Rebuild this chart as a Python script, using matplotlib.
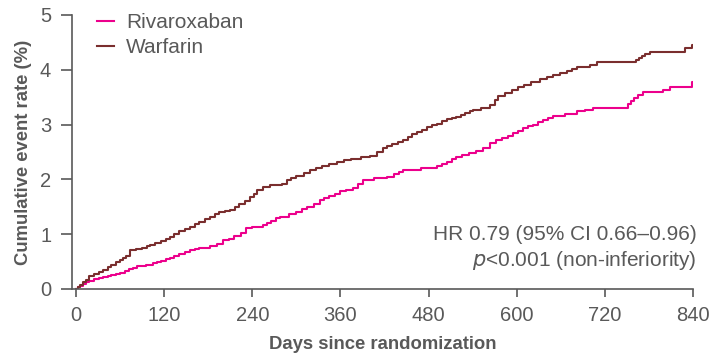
import matplotlib
matplotlib.use("Agg")
import matplotlib.pyplot as plt

plt.rcParams['font.family'] = ['Liberation Sans', 'DejaVu Sans']

# Data
warf_days = [0, 3, 6, 10, 14, 17, 25, 31, 37, 43, 48, 54, 60, 64, 68, 74, 82, 90, 96, 101,
             108, 115, 122, 128, 134, 140, 148, 155, 162, 168, 175, 182, 189, 195, 203,
             210, 216, 222, 230, 237, 242, 246, 255, 264, 280, 287, 293, 300, 310, 319,
             327, 335, 345, 355, 365, 375, 388, 400, 410, 418, 424, 430, 438, 445, 452,
             458, 464, 471, 478, 484, 491, 498, 505, 512, 518, 524, 530, 536, 541, 552,
             564, 570, 574, 584, 593, 602, 610, 620, 632, 641, 650, 659, 668, 675, 682,
             700, 709, 763, 766, 770, 775, 781, 829, 838, 840]
warf_vals = [0, 0.03, 0.07, 0.12, 0.17, 0.24, 0.28, 0.31, 0.35, 0.40, 0.44, 0.49, 0.53,
             0.57, 0.60, 0.71, 0.73, 0.75, 0.78, 0.80, 0.84, 0.88, 0.91, 0.95, 1.00, 1.05,
             1.10, 1.14, 1.18, 1.22, 1.27, 1.32, 1.36, 1.40, 1.42, 1.44, 1.50, 1.55, 1.61,
             1.68, 1.74, 1.81, 1.86, 1.90, 1.92, 1.99, 2.03, 2.07, 2.12, 2.17, 2.21, 2.24,
             2.28, 2.32, 2.35, 2.38, 2.41, 2.43, 2.50, 2.57, 2.61, 2.65, 2.69, 2.72, 2.77,
             2.82, 2.87, 2.91, 2.95, 2.99, 3.02, 3.06, 3.10, 3.12, 3.14, 3.18, 3.22, 3.25,
             3.27, 3.31, 3.36, 3.45, 3.53, 3.58, 3.64, 3.69, 3.73, 3.78, 3.83, 3.87, 3.90,
             3.94, 3.98, 4.02, 4.06, 4.08, 4.15, 4.18, 4.22, 4.25, 4.29, 4.33, 4.40, 4.46,
             4.46]

riva_days = [0, 3, 6, 10, 14, 17, 25, 31, 37, 43, 48, 54, 60, 66, 72, 78, 83, 95, 105,
             110, 115, 122, 128, 134, 140, 148, 155, 162, 168, 182, 192, 200, 208, 215,
             224, 232, 240, 245, 255, 260, 265, 272, 278, 290, 300, 308, 315, 324, 332,
             338, 345, 352, 360, 368, 377, 384, 391, 405, 423, 433, 440, 445, 470, 491,
             498, 505, 512, 518, 526, 535, 545, 554, 564, 572, 580, 588, 595, 602, 609,
             616, 622, 629, 636, 643, 650, 666, 682, 693, 704, 752, 756, 759, 765, 772,
             799, 809, 838, 840]
riva_vals = [0, 0.03, 0.06, 0.10, 0.13, 0.15, 0.18, 0.20, 0.22, 0.24, 0.26, 0.28, 0.30,
             0.33, 0.36, 0.39, 0.42, 0.44, 0.47, 0.50, 0.52, 0.54, 0.56, 0.60, 0.63, 0.67,
             0.71, 0.73, 0.75, 0.78, 0.82, 0.89, 0.92, 0.96, 1.03, 1.11, 1.13, 1.14, 1.17,
             1.21, 1.25, 1.29, 1.32, 1.37, 1.41, 1.46, 1.50, 1.56, 1.62, 1.66, 1.70, 1.74,
             1.78, 1.81, 1.84, 1.91, 1.99, 2.02, 2.04, 2.10, 2.14, 2.17, 2.20, 2.24, 2.28,
             2.32, 2.37, 2.41, 2.44, 2.48, 2.52, 2.57, 2.66, 2.71, 2.75, 2.80, 2.84, 2.88,
             2.93, 2.97, 3.00, 3.04, 3.08, 3.12, 3.16, 3.20, 3.24, 3.27, 3.30, 3.38, 3.43,
             3.48, 3.54, 3.60, 3.64, 3.69, 3.77, 3.77]

x_ticks = [0, 120, 240, 360, 480, 600, 720, 840]
y_ticks = [0, 1, 2, 3, 4, 5]

PINK = '#EC008C'
BROWN = '#7A2E2E'
GRAY = '#595959'

fig = plt.figure(figsize=(7.12, 3.55), dpi=100)
ax = fig.add_axes([72/712, 1-289/355, (693-72)/712, (289-15)/355])

ax.plot(riva_days, riva_vals, drawstyle='steps-post', color=PINK, lw=1.5, label='Rivaroxaban')
ax.plot(warf_days, warf_vals, drawstyle='steps-post', color=BROWN, lw=1.5, label='Warfarin')

ax.set_xlim(-5.5, 840)
ax.set_ylim(0, 5)
ax.set_xticks(x_ticks)
ax.set_yticks(y_ticks)
for s in ['top', 'right']:
    ax.spines[s].set_visible(False)
for s in ['left', 'bottom']:
    ax.spines[s].set_color(GRAY)
    ax.spines[s].set_linewidth(1.2)
ax.tick_params(axis='both', colors=GRAY, labelcolor=GRAY, labelsize=14.5, width=1.2)
ax.tick_params(axis='y', length=8, pad=7)
ax.tick_params(axis='x', length=6, pad=6)

ax.set_xlabel('Days since randomization', fontsize=13.3, fontweight='bold', color=GRAY, labelpad=8)
ax.set_ylabel('Cumulative event rate (%)', fontsize=13.3, fontweight='bold', color=GRAY, labelpad=6)

leg = ax.legend(loc='upper left', bbox_to_anchor=(0.01, 1.075), frameon=False, fontsize=15,
                handlelength=0.8, handletextpad=0.6, labelspacing=0.3, labelcolor=GRAY)

ax.text(1.006, 0.2, 'HR 0.79 (95% CI 0.66–0.96)', transform=ax.transAxes, ha='right',
        va='center', fontsize=15, color=GRAY)
ax.text(1.006, 0.105, r'$\it{p}$<0.001 (non-inferiority)', transform=ax.transAxes, ha='right',
        va='center', fontsize=15, color=GRAY)

fig.savefig('out.png', dpi=100)
